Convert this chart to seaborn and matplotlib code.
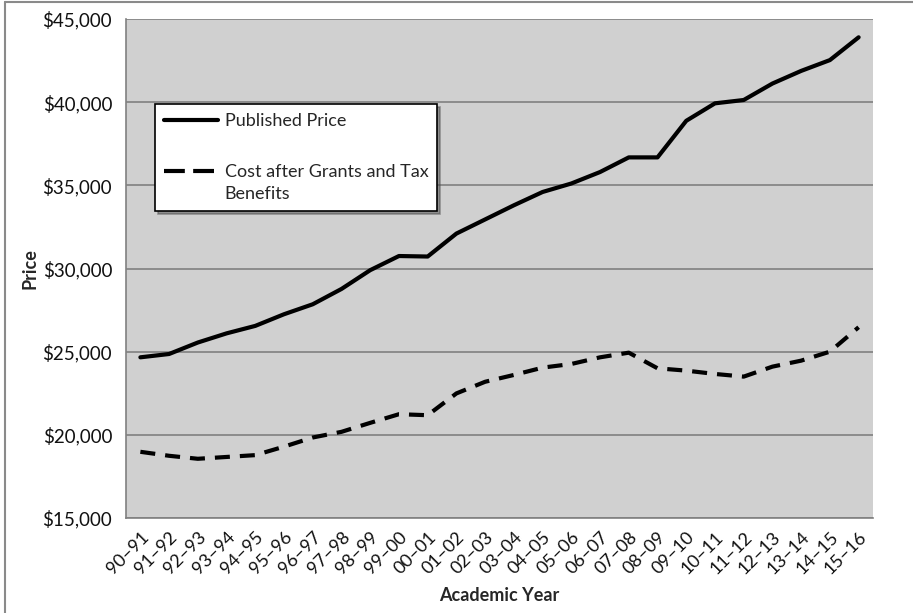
import matplotlib
matplotlib.use("Agg")
import matplotlib.pyplot as plt
from matplotlib.lines import Line2D
from matplotlib.legend_handler import HandlerLine2D
from matplotlib.ticker import FuncFormatter, FixedLocator
import numpy as np
import pandas as pd
import seaborn as sns

# Academic years and prices (in dollars)
years = ["90–91", "91–92", "92–93", "93–94", "94–95", "95–96", "96–97", "97–98",
         "98–99", "99–00", "00–01", "01–02", "02–03", "03–04", "04–05", "05–06",
         "06–07", "07–08", "08–09", "09–10", "10–11", "11–12", "12–13", "13–14",
         "14–15", "15–16"]
published_price = [24660, 24860, 25550, 26100, 26550, 27250, 27850, 28770,
                   29900, 30750, 30720, 32100, 32950, 33800, 34600, 35110,
                   35800, 36680, 36680, 38880, 39930, 40130, 41120, 41880,
                   42530, 43900]
net_cost = [18980, 18740, 18560, 18670, 18780, 19290, 19840, 20180,
            20720, 21240, 21180, 22490, 23190, 23600, 24040, 24260,
            24660, 24940, 24000, 23860, 23660, 23500, 24100, 24460,
            25000, 26470]

series_names = ["Published Price", "Cost after Grants and Tax\nBenefits"]
y_ticks = [15000, 20000, 25000, 30000, 35000, 40000, 45000]

df = pd.DataFrame({
    "idx": list(range(len(years))) * 2,
    "value": published_price + net_cost,
    "series": [series_names[0]] * len(years) + [series_names[1]] * len(years),
})


class FirstLineHandler(HandlerLine2D):
    """Legend line placed beside the first line of a two-line label."""

    def __init__(self, shift, **kw):
        super().__init__(**kw)
        self.shift = shift

    def create_artists(self, *args, **kwargs):
        arts = super().create_artists(*args, **kwargs)
        for a in arts:
            a.set_ydata(np.asarray(a.get_ydata()) + self.shift)
        return arts


sns.set_style("white")
plt.rcParams["font.family"] = ["Lato", "DejaVu Sans"]

fig = plt.figure(figsize=(9.13, 6.13), dpi=100)
ax = fig.add_axes([126 / 913, 1 - 518 / 613, (873 - 126) / 913, (518 - 19) / 613])
ax.set_facecolor("#d0d0d0")

sns.lineplot(data=df[df.series == series_names[0]], x="idx", y="value",
             color="black", linewidth=3.0, ax=ax, label=series_names[0])
sns.lineplot(data=df[df.series == series_names[1]], x="idx", y="value",
             color="black", linewidth=3.0, ax=ax, label=series_names[1],
             dashes=False)
ax.lines[1].set_dashes((3.6, 2.4))

ax.set_xlim(-0.5, len(years) - 0.5)
ax.set_ylim(15000, 45000)

# y axis: gridlines and dollar labels
ax.set_yticks(y_ticks)
ax.yaxis.set_major_formatter(FuncFormatter(lambda v, p: f"${v:,.0f}"))
ax.grid(axis="y", color="#808080", linewidth=1.2)
ax.set_axisbelow(True)

# x axis: labels at category centres, tick marks on category boundaries
ax.set_xticks(range(len(years)))
ax.set_xticklabels(years, rotation=45, ha="right", rotation_mode="anchor")
ax.xaxis.set_minor_locator(FixedLocator(np.arange(-0.5, len(years), 1.0)))
ax.tick_params(axis="x", which="major", length=0, pad=8, labelsize=13, colors="#111111")
ax.tick_params(axis="x", which="minor", length=6, width=1.2, color="#808080", direction="out")
ax.tick_params(axis="y", which="major", length=6, width=1.2, color="#808080",
               direction="out", pad=4, labelsize=13.5, labelcolor="#111111")

for side in ["top", "right"]:
    ax.spines[side].set_visible(False)
for side in ["left", "bottom"]:
    ax.spines[side].set_color("#808080")
    ax.spines[side].set_linewidth(1.2)

ax.set_xlabel("Academic Year", fontsize=13, fontweight="bold", labelpad=7)
ax.set_ylabel("Price", fontsize=13, fontweight="bold", labelpad=3)

h, l = ax.get_legend_handles_labels()
leg = ax.legend(h, l, loc="upper left", bbox_to_anchor=(0.039, 0.83), frameon=True,
                fancybox=False, shadow=True, edgecolor="black", fontsize=13,
                handlelength=3.0, labelspacing=1.95, borderpad=0.5,
                handletextpad=0.35, borderaxespad=0,
                handler_map={h[1]: FirstLineHandler(shift=8.5)})
leg.get_frame().set_linewidth(1.2)
leg.get_frame().set_facecolor("white")
leg.get_texts()[1].set_linespacing(1.45)
leg.legend_handles[1].set_dashes((5.0, 2.0))

# outer chart frame
fig.add_artist(Line2D([5 / 913, 1], [1 - 2 / 613, 1 - 2 / 613], color="#8a8a8a", lw=1.5))
fig.add_artist(Line2D([5 / 913, 5 / 913], [0, 1 - 2 / 613], color="#8a8a8a", lw=1.5))

fig.savefig("out.png", dpi=100)
